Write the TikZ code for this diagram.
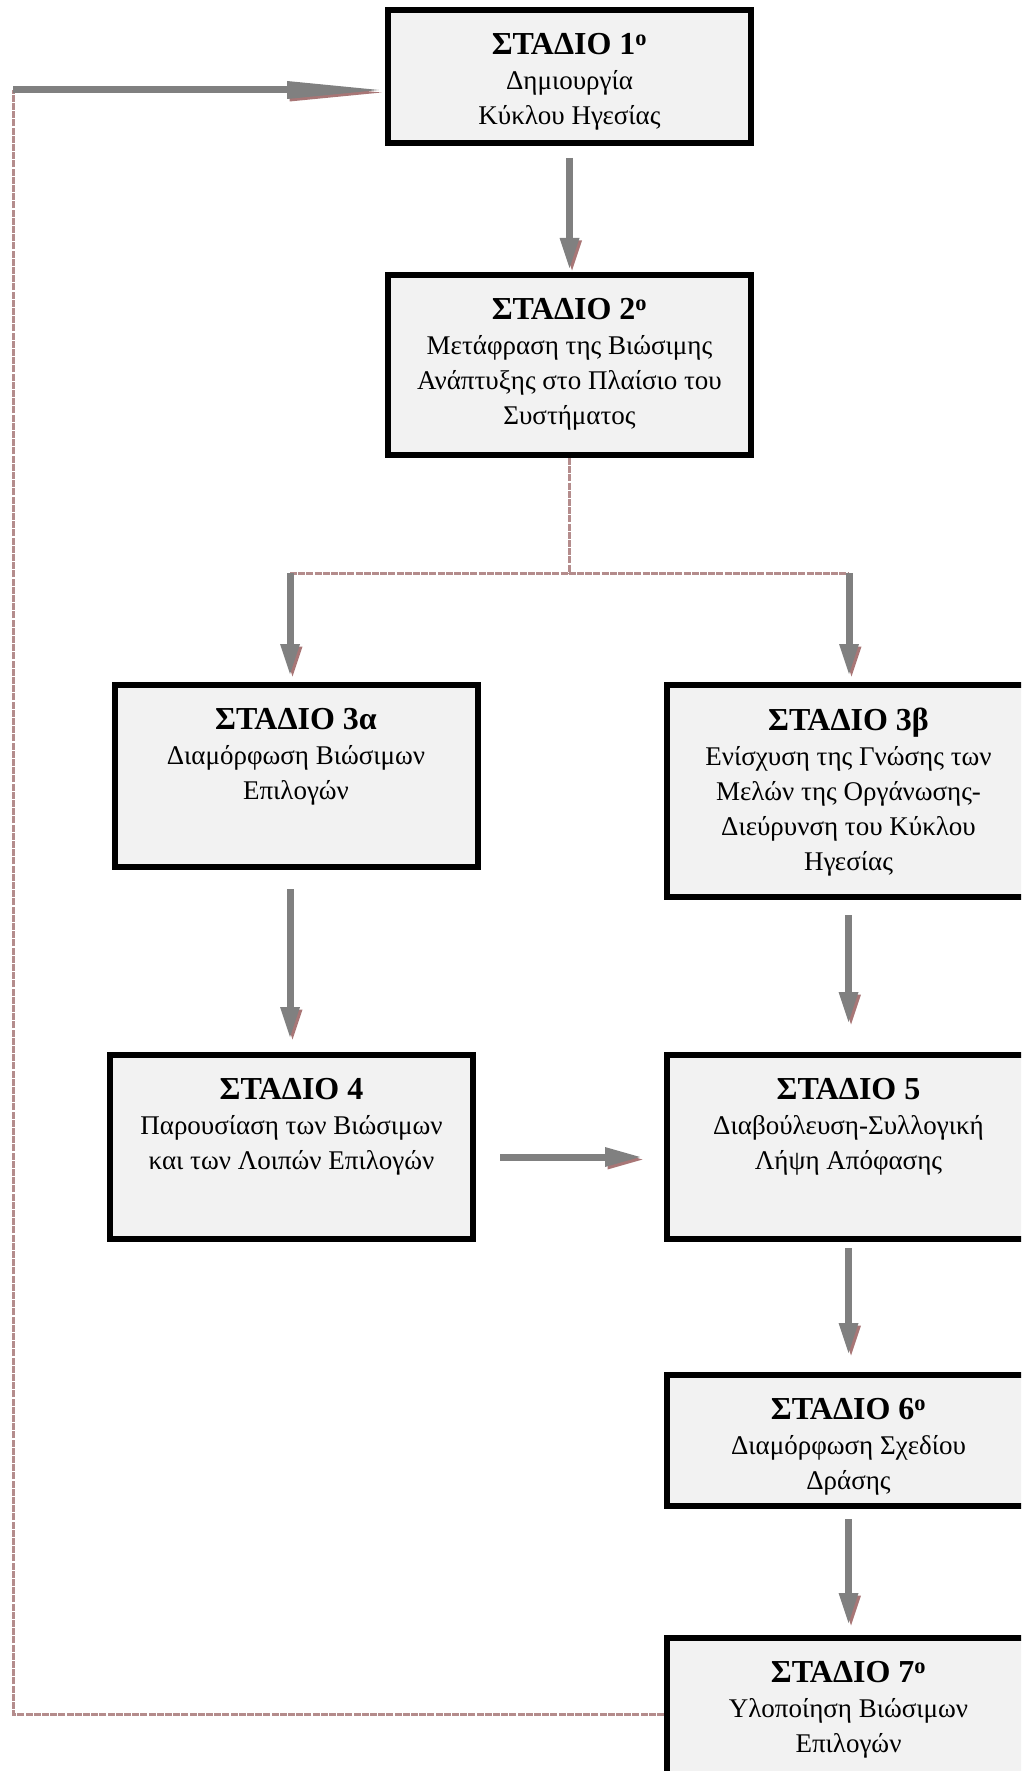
\documentclass[tikz,border=0pt]{standalone}
\usepackage{fontspec}
\setmainfont{Liberation Serif}
\usetikzlibrary{positioning, arrows.meta}

\definecolor{boxfill}{HTML}{F2F2F2}
\definecolor{arrowgray}{HTML}{808080}
\definecolor{shadowred}{HTML}{A87676}
\definecolor{loopred}{HTML}{B48C8C}

\newcommand{\stagehead}[1]{{\fontsize{32}{35}\selectfont\bfseries #1}}

\begin{document}
\begin{tikzpicture}[
    x=1pt, y=-1pt,
    stagebox/.style={
        draw=black,
        fill=boxfill,
        line width=6pt,
        minimum width=363pt,
        inner sep=0pt
    },
    stagetext/.style={
        font=\fontsize{27}{35}\selectfont,
        align=center,
        inner sep=0pt
    },
    blockarrow/.style={
        -{Triangle[length=30pt, width=20pt, line width=0pt]},
        line width=7pt,
        draw=arrowgray,
        preaction={draw=shadowred,
                   transform canvas={shift={(2.5pt,-2.5pt)}}}
    },
    sidearrow/.style={
        blockarrow,
        -{Triangle[length=35pt, width=20pt, line width=0pt]}
    },
    longarrow/.style={
        blockarrow,
        -{Triangle[length=92pt, width=18pt, line width=0pt]}
    },
    looplink/.style={
        draw=loopred,
        line width=3pt,
        dash pattern=on 7pt off 1.2pt
    }
]

\path[use as bounding box, clip] (0,0) rectangle (1021,1771);

% --- Stages, centre column ------------------------------------------------
\node[stagebox, minimum height=133pt] (s1) at (569.5, 76.5) {};
\node[stagetext, below=26pt of s1.north] (t1)
    {\stagehead{ΣΤΑΔΙΟ 1\textsuperscript{ο}}\\
     Δημιουργία\\
     Κύκλου Ηγεσίας};

\node[stagebox, minimum height=180pt] (s2) at (569.5, 365) {};
\node[stagetext, below=26pt of s2.north] (t2)
    {\stagehead{ΣΤΑΔΙΟ 2\textsuperscript{ο}}\\
     Μετάφραση της Βιώσιμης\\
     Ανάπτυξης στο Πλαίσιο του\\
     Συστήματος};

% --- Left column ----------------------------------------------------------
\node[stagebox, minimum height=182pt] (s3a) at (296, 776) {};
\node[stagetext, below=26pt of s3a.north] (t3a)
    {\stagehead{ΣΤΑΔΙΟ 3α}\\
     Διαμόρφωση Βιώσιμων\\
     Επιλογών};

\node[stagebox, minimum height=184pt] (s4) at (291.5, 1147) {};
\node[stagetext, below=26pt of s4.north] (t4)
    {\stagehead{ΣΤΑΔΙΟ 4}\\
     Παρουσίαση των Βιώσιμων\\
     και των Λοιπών Επιλογών};

% --- Right column (runs off the page edge) --------------------------------
\node[stagebox, minimum height=212pt] (s3b) at (848.5, 791) {};
\node[stagetext, below=26pt of s3b.north] (t3b)
    {\stagehead{ΣΤΑΔΙΟ 3β}\\
     Ενίσχυση της Γνώσης των\\
     Μελών της Οργάνωσης-\\
     Διεύρυνση του Κύκλου\\
     Ηγεσίας};

\node[stagebox, minimum height=184pt] (s5) at (848.5, 1147) {};
\node[stagetext, below=26pt of s5.north] (t5)
    {\stagehead{ΣΤΑΔΙΟ 5}\\
     Διαβούλευση-Συλλογική\\
     Λήψη Απόφασης};

\node[stagebox, minimum height=131pt] (s6) at (848.5, 1440.5) {};
\node[stagetext, below=26pt of s6.north] (t6)
    {\stagehead{ΣΤΑΔΙΟ 6\textsuperscript{ο}}\\
     Διαμόρφωση Σχεδίου\\
     Δράσης};

\node[stagebox, minimum height=180pt] (s7) at (848.5, 1728) {};
\node[stagetext, below=26pt of s7.north] (t7)
    {\stagehead{ΣΤΑΔΙΟ 7\textsuperscript{ο}}\\
     Υλοποίηση Βιώσιμων\\
     Επιλογών};

% --- Branch points --------------------------------------------------------
\coordinate (split)      at (569.5, 573);
\coordinate (splitleft)  at (290, 573);
\coordinate (splitright) at (849, 573);
\coordinate (loopbot)    at (13, 1714);
\coordinate (looptop)    at (13, 90);

% --- Main flow ------------------------------------------------------------
\draw[blockarrow, shorten <=12pt, shorten >=4pt] (s1.south) -- (s2.north);

\draw[looplink] (s2.south) -- (split);
\draw[looplink] (splitleft) -- (splitright);
\draw[blockarrow, shorten >=8pt] (splitleft) -- (splitleft |- s3a.north);
\draw[blockarrow, shorten >=8pt] (splitright) -- (splitright |- s3b.north);

\draw[blockarrow, shorten <=19pt, shorten >=15pt]
    (s3a.south -| splitleft) -- (s4.north -| splitleft);
\draw[blockarrow, shorten <=15pt, shorten >=30pt] (s3b.south) -- (s5.north);
\draw[sidearrow, shorten <=24pt, shorten >=24pt]
    ([yshift=-10pt]s4.east) -- ([yshift=-10pt]s4.east -| s5.west);
\draw[blockarrow, shorten <=6pt, shorten >=19pt] (s5.south) -- (s6.north);
\draw[blockarrow, shorten <=10pt, shorten >=12pt] (s6.south) -- (s7.north);

% --- Feedback loop back to stage 1 ----------------------------------------
\draw[looplink] (loopbot -| s7.west) -- (loopbot) -- (looptop);
\draw[longarrow, shorten >=6pt] (looptop) -- (looptop -| s1.west);

\end{tikzpicture}
\end{document}
